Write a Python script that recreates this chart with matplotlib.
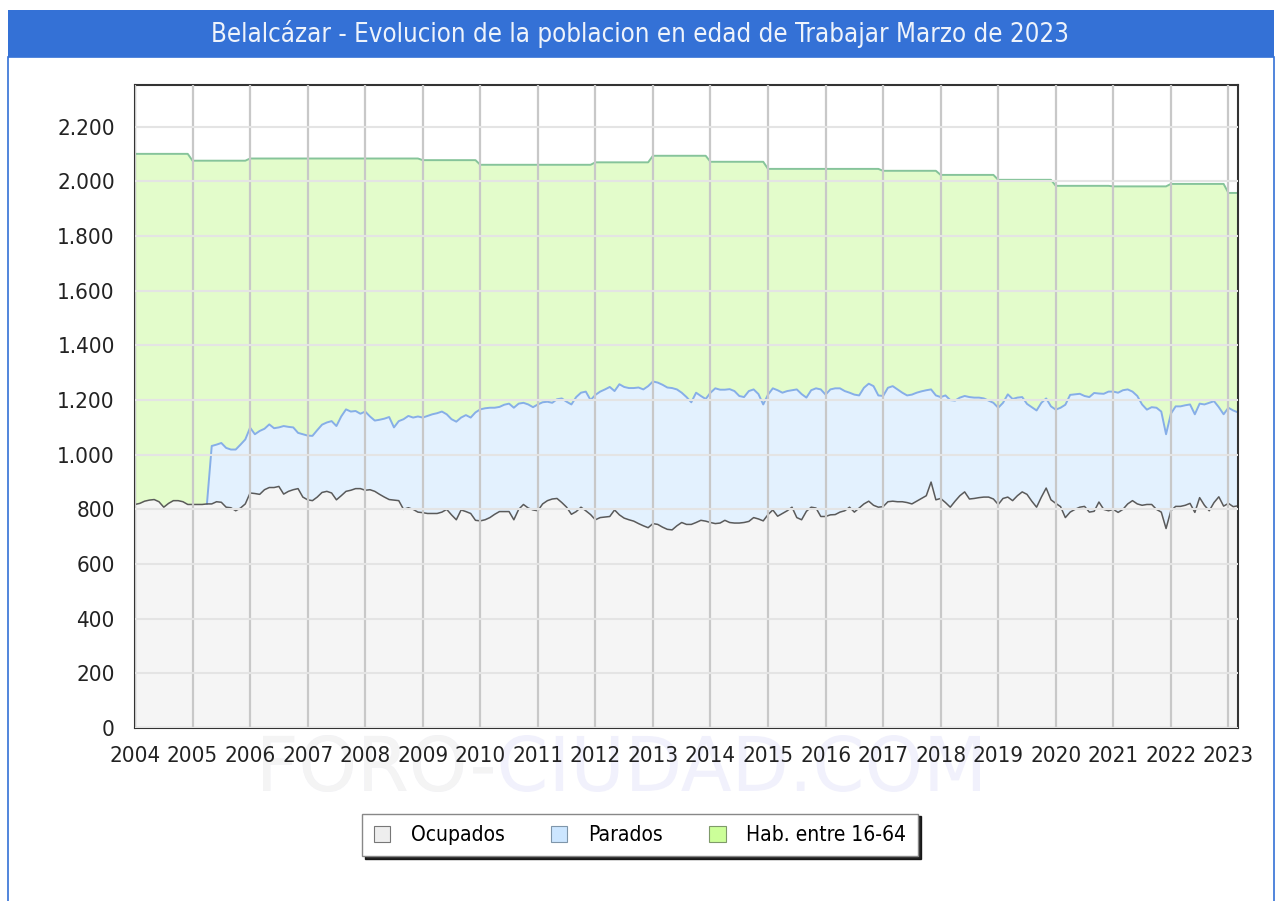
import numpy as np
import matplotlib
matplotlib.use('Agg')
import matplotlib.pyplot as plt
from matplotlib.patches import Rectangle, Patch, PathPatch
from matplotlib.textpath import TextPath
from matplotlib.font_manager import FontProperties
from matplotlib.transforms import Affine2D
from matplotlib.ticker import FuncFormatter, MultipleLocator

plt.rcParams['font.family'] = 'DejaVu Sans'
plt.rcParams['font.stretch'] = 'condensed'

######## data (monthly, Jan 2004 - Mar 2023)
ocupados = [
    818, 822, 830, 834, 836, 828, 808, 822, 832, 832, 828, 818,   # 2004
    818, 818, 818, 820, 820, 828, 826, 808, 806, 795, 805, 820,   # 2005
    860, 858, 855, 872, 880, 880, 884, 856, 866, 872, 876, 845,   # 2006
    835, 832, 845, 862, 866, 860, 835, 850, 866, 870, 876, 876,   # 2007
    870, 872, 866, 855, 845, 836, 834, 832, 800, 806, 800, 790,   # 2008
    788, 785, 785, 785, 790, 800, 780, 762, 798, 792, 785, 760,   # 2009
    758, 762, 770, 782, 792, 792, 792, 762, 800, 818, 805, 798,   # 2010
    795, 820, 832, 838, 840, 825, 808, 782, 792, 808, 795, 781,   # 2011
    762, 770, 772, 774, 798, 780, 768, 762, 757, 748, 740, 733,   # 2012
    748, 745, 735, 727, 725, 740, 752, 745, 745, 752, 760, 757,   # 2013
    752, 748, 750, 760, 752, 750, 750, 752, 756, 770, 765, 758,   # 2014
    781, 798, 775, 785, 795, 808, 770, 762, 793, 808, 805, 774,   # 2015
    774, 780, 781, 790, 795, 808, 790, 805, 820, 830, 815, 808,   # 2016
    810, 828, 830, 828, 828, 825, 820, 830, 840, 850, 900, 835,   # 2017
    840, 825, 808, 830, 850, 864, 838, 840, 843, 845, 845, 838,   # 2018
    818, 840, 845, 832, 850, 864, 855, 830, 808, 845, 878, 835,   # 2019
    822, 810, 770, 790, 800, 808, 811, 790, 793, 827, 800, 795,   # 2020
    800, 789, 800, 820, 832, 820, 815, 818, 818, 800, 790, 730,   # 2021
    795, 811, 811, 815, 822, 789, 843, 815, 795, 825, 846, 812,   # 2022
    822, 810, 813,                                                # 2023
]

# ocupados + parados (top of the blue band), no parados data before Apr 2005
ocupados_mas_parados = [np.nan] * 15 + [
    820, 1032, 1037, 1043, 1025, 1019, 1019, 1037, 1056,          # 2005 (Apr-Dec)
    1099, 1075, 1087, 1095, 1111, 1097, 1100, 1105, 1102, 1100, 1080, 1075,   # 2006
    1070, 1069, 1090, 1110, 1118, 1123, 1105, 1140, 1166, 1158, 1160, 1150,   # 2007
    1158, 1140, 1125, 1128, 1132, 1138, 1100, 1123, 1130, 1142, 1136, 1140,   # 2008
    1136, 1142, 1148, 1152, 1158, 1148, 1130, 1121, 1136, 1145, 1136, 1155,   # 2009
    1166, 1170, 1172, 1172, 1175, 1183, 1187, 1172, 1187, 1190, 1184, 1174,   # 2010
    1184, 1192, 1194, 1190, 1203, 1206, 1194, 1184, 1211, 1227, 1231, 1200,   # 2011
    1219, 1231, 1239, 1248, 1233, 1258, 1248, 1244, 1244, 1246, 1239, 1251,   # 2012
    1268, 1264, 1256, 1246, 1244, 1239, 1227, 1211, 1192, 1227, 1215, 1204,   # 2013
    1227, 1243, 1238, 1238, 1240, 1233, 1215, 1211, 1233, 1239, 1222, 1184,   # 2014
    1220, 1243, 1236, 1227, 1233, 1236, 1239, 1222, 1209, 1236, 1243, 1239,   # 2015
    1220, 1239, 1243, 1243, 1233, 1227, 1220, 1217, 1245, 1260, 1251, 1217,   # 2016
    1215, 1245, 1251, 1239, 1227, 1217, 1220, 1227, 1232, 1236, 1239, 1217,   # 2017
    1211, 1217, 1200, 1198, 1209, 1215, 1211, 1209, 1209, 1206, 1198, 1190,   # 2018
    1172, 1190, 1221, 1204, 1209, 1211, 1186, 1174, 1162, 1190, 1206, 1177,   # 2019
    1165, 1172, 1183, 1219, 1221, 1223, 1215, 1211, 1226, 1224, 1223, 1231,   # 2020
    1231, 1227, 1236, 1239, 1231, 1215, 1184, 1165, 1174, 1172, 1158, 1075,   # 2021
    1150, 1177, 1177, 1181, 1184, 1148, 1187, 1184, 1190, 1196, 1174, 1148,   # 2022
    1172, 1162, 1155,                                                         # 2023
]

# habitantes entre 16-64 (one value per year, Jan update)
years = list(range(2004, 2024))
hab_16_64 = [2101, 2076, 2084, 2084, 2084, 2078, 2061, 2061, 2070, 2094,
             2072, 2046, 2046, 2039, 2024, 2006, 1984, 1982, 1991, 1958]

labels = ['Ocupados', 'Parados', 'Hab. entre 16-64']
title = 'Belalcázar - Evolucion de la poblacion en edad de Trabajar Marzo de 2023'

######## build series
ocu = np.array(ocupados, dtype=float)
top = np.array(ocupados_mas_parados, dtype=float)
n = len(ocu)
t = 2004 + np.arange(n) / 12.0
hab = np.repeat(hab_16_64, 12)[:n].astype(float)
low_green = np.where(np.isnan(top), ocu, top)

W, H = 1277.0, 901.0
fig = plt.figure(figsize=(W / 100, H / 100), dpi=100)
fig.patch.set_facecolor('white')

# title bar and frame
fig.patches.append(Rectangle((8 / W, 1 - 57 / H), 1266 / W, 47 / H, transform=fig.transFigure,
                             facecolor='#3471d6', edgecolor='none', zorder=-10))
fig.patches.append(Rectangle((8 / W, -0.01), 1266 / W, 1 - 57 / H + 0.01, transform=fig.transFigure,
                             facecolor='white', edgecolor='#3471d6', lw=1.2, zorder=-10))
fig.text(640 / W, 1 - 34 / H, title, ha='center', va='center', fontsize=18.5, color='#eef3fb')

# watermark, stretched into its box (pixels)
wm_font = FontProperties(family='DejaVu Sans')
wm_all = TextPath((0, 0), 'FORO-CIUDAD.COM', size=1, prop=wm_font)
wm_foro = TextPath((0, 0), 'FORO-', size=1, prop=wm_font)
ext = wm_all.get_extents()
sx = (980 - 263) / ext.width
sy = (792 - 735) / ext.height
tr = Affine2D().translate(-ext.x0, -ext.y0).scale(sx, sy).translate(263, H - 792)
for pth, col in [(wm_all, '#f1f1fc'), (wm_foro, '#f4f4f4')]:
    fig.patches.append(PathPatch(tr.transform_path(pth), transform=None,
                                 facecolor=col, edgecolor='none', zorder=-5))

ax = fig.add_axes([135 / W, 1 - 728 / H, (1238 - 135) / W, (728 - 85) / H])
ax.set_facecolor('white')

ax.fill_between(t, 0, ocu, color='#f5f5f5', lw=0)
ax.fill_between(t, ocu, top, color='#e3f1fe', lw=0)
ax.fill_between(t, low_green, hab, color='#e3fccb', lw=0)

ax.plot(t, hab, color='#86c49a', lw=1.4)
ax.plot(t, top, color='#86aee8', lw=1.4)
ax.plot(t, ocu, color='#5a5a5a', lw=1.1)

ax.set_xlim(t[0], t[-1])
ax.set_ylim(0, 2353)
ax.set_xticks(years)
ax.set_xticklabels([str(y) for y in years])
ax.yaxis.set_major_locator(MultipleLocator(200))
ax.yaxis.set_major_formatter(FuncFormatter(lambda v, p: f'{int(v):,}'.replace(',', '.')))
ax.tick_params(axis='both', length=0, labelsize=16, colors='#222222')
ax.tick_params(axis='y', pad=14.5)
ax.tick_params(axis='x', pad=13)

ax.set_axisbelow(False)
ax.grid(axis='x', color='#c8c8c8', lw=1.6)
ax.grid(axis='y', color='#e4e4e4', lw=1.5)
for s in ax.spines.values():
    s.set_color('#333333')
    s.set_linewidth(1.5)

handles = [Patch(facecolor='#eeeeee', edgecolor='#777777', lw=0.8),
           Patch(facecolor='#cce6ff', edgecolor='#7f96aa', lw=0.8),
           Patch(facecolor='#ccff99', edgecolor='#7f9a6a', lw=0.8)]
leg = fig.legend(handles, labels, loc='center', bbox_to_anchor=(640 / W, 1 - 835 / H), ncol=3,
                 fontsize=15, frameon=True, fancybox=False, shadow={'color': 'black', 'alpha': 0.85},
                 handlelength=0.8, handleheight=0.8, handletextpad=1.0, columnspacing=2.2,
                 borderpad=0.55, edgecolor='#888888')
leg.get_frame().set_linewidth(1.0)

fig.savefig('out.png', dpi=100, facecolor='white')
